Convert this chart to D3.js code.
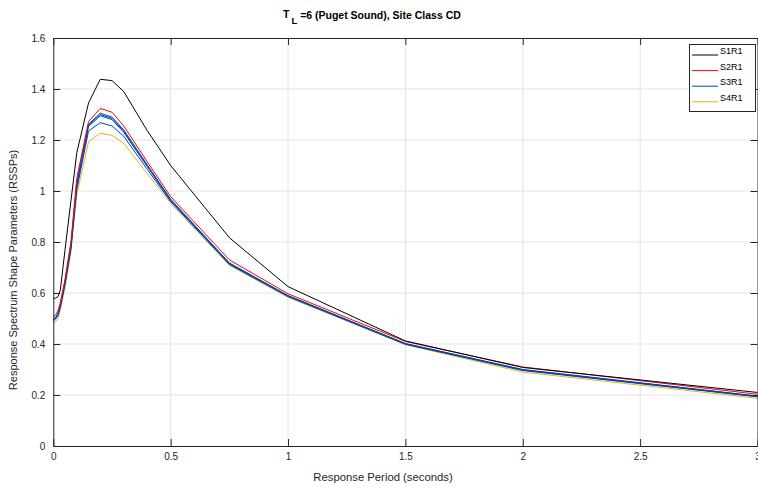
<!DOCTYPE html>
<html><head><meta charset="utf-8">
<script src="https://cdn.jsdelivr.net/npm/d3@7"></script>
<style>body{margin:0;background:#fff}svg{display:block;font-family:"Liberation Sans",Arial,sans-serif}</style>
</head><body><svg id="c" width="758" height="489"></svg>
<script>
const periods = [0, 0.01, 0.02, 0.03, 0.05, 0.075, 0.1, 0.15, 0.2, 0.25, 0.3, 0.4, 0.5, 0.75, 1, 1.5, 2, 3];
const s1r1 = [0.578, 0.580, 0.586, 0.612, 0.770, 0.960, 1.150, 1.345, 1.438, 1.433, 1.390, 1.237, 1.100, 0.817, 0.625, 0.412, 0.308, 0.210];
const s2r1 = [0.507, 0.515, 0.530, 0.562, 0.655, 0.800, 1.050, 1.272, 1.324, 1.309, 1.255, 1.115, 0.978, 0.730, 0.597, 0.410, 0.310, 0.203];
const s3r1 = [0.497, 0.505, 0.520, 0.553, 0.645, 0.785, 1.030, 1.262, 1.305, 1.290, 1.240, 1.103, 0.968, 0.718, 0.590, 0.402, 0.300, 0.196];
const s3r1b = [0.495, 0.503, 0.518, 0.551, 0.642, 0.782, 1.025, 1.258, 1.300, 1.285, 1.235, 1.100, 0.965, 0.716, 0.589, 0.401, 0.299, 0.195];
const s3r1c = [0.493, 0.501, 0.516, 0.549, 0.639, 0.779, 1.020, 1.253, 1.295, 1.280, 1.230, 1.096, 0.962, 0.714, 0.588, 0.400, 0.298, 0.194];
const s3r1d = [0.490, 0.498, 0.512, 0.545, 0.634, 0.772, 1.005, 1.235, 1.268, 1.255, 1.215, 1.085, 0.958, 0.712, 0.586, 0.399, 0.296, 0.193];
const s4r1 = [0.480, 0.488, 0.500, 0.532, 0.620, 0.760, 0.985, 1.193, 1.226, 1.218, 1.187, 1.068, 0.952, 0.708, 0.583, 0.397, 0.290, 0.187];
const xTicks = [0, 0.5, 1, 1.5, 2, 2.5, 3];
const yTicks = [0, 0.2, 0.4, 0.6, 0.8, 1, 1.2, 1.4, 1.6];
const legendNames = ["S1R1", "S2R1", "S3R1", "S4R1"];
const colors = {black:"#000000", red:"#ff0000", blue:"#0047b3", yellow:"#edb120"};

const series = [
  {name:"S1R1", v:s1r1, c:colors.black},
  {name:"S2R1", v:s2r1, c:colors.red},
  {name:"S3R1", v:s3r1, c:colors.blue},
  {name:null, v:s3r1b, c:colors.blue},
  {name:null, v:s3r1c, c:colors.blue},
  {name:null, v:s3r1d, c:colors.blue},
  {name:"S4R1", v:s4r1, c:colors.yellow}
];

const svg = d3.select("#c");
const L = 53.3, R = 757.5, T = 38, B = 446;
const x = d3.scaleLinear().domain([0, 3]).range([L, R]);
const y = d3.scaleLinear().domain([0, 1.6]).range([B, T]);
const axC = "#262626";

// grid
svg.append("g").selectAll("line").data(xTicks.slice(1, -1)).join("line")
  .attr("x1", d => x(d)).attr("x2", d => x(d)).attr("y1", T).attr("y2", B)
  .attr("stroke", "#e3e3e3").attr("stroke-width", 1);
svg.append("g").selectAll("line").data(yTicks.slice(1, -1)).join("line")
  .attr("y1", d => y(d)).attr("y2", d => y(d)).attr("x1", L).attr("x2", R)
  .attr("stroke", "#e3e3e3").attr("stroke-width", 1);

// lines
const line = d3.line().x((d, i) => x(periods[i])).y(d => y(d));
const plot = svg.append("g");
series.slice().reverse().forEach(s => {
  plot.append("path").datum(s.v).attr("d", line).attr("fill", "none")
    .attr("stroke", s.c).attr("stroke-width", 1).attr("stroke-linejoin", "round");
});

// axes (inward ticks)
const tl = 7;
const axB = svg.append("g").attr("transform", `translate(0,${B})`)
  .call(d3.axisBottom(x).tickValues(xTicks).tickFormat(d3.format("~g")).tickSizeInner(-tl).tickSizeOuter(0).tickPadding(7));
const axT = svg.append("g").attr("transform", `translate(0,${T})`)
  .call(d3.axisTop(x).tickValues(xTicks).tickFormat("").tickSizeInner(-tl).tickSizeOuter(0));
const axL = svg.append("g").attr("transform", `translate(${L},0)`)
  .call(d3.axisLeft(y).tickValues(yTicks).tickFormat(d3.format("~g")).tickSizeInner(-tl).tickSizeOuter(0).tickPadding(8));
const axR = svg.append("g").attr("transform", `translate(${R},0)`)
  .call(d3.axisRight(y).tickValues(yTicks).tickFormat("").tickSizeInner(-tl).tickSizeOuter(0));
[axB, axT, axL, axR].forEach(g => {
  g.selectAll("path").attr("stroke", axC).attr("stroke-width", 1);
  g.selectAll("line").attr("stroke", axC);
  g.selectAll("text").attr("fill", axC).attr("font-size", 10).style("font-family", '"Liberation Sans",Arial,sans-serif');
});

// titles
const title = svg.append("text").attr("x", 283).attr("y", 17.5).attr("text-anchor", "start")
  .attr("font-size", 10.5).attr("font-weight", "bold").attr("fill", "#000");
title.append("tspan").text("T");
title.append("tspan").attr("dy", 6).attr("dx", 2).attr("font-size", 9.5).text("L");
title.append("tspan").attr("dy", -5).text(" =6 (Puget Sound), Site Class CD");

svg.append("text").attr("x", 383).attr("y", 481).attr("text-anchor", "middle")
  .attr("font-size", 11.3).attr("fill", axC).text("Response Period (seconds)");
svg.append("text").attr("transform", `translate(17,270) rotate(-90)`).attr("text-anchor", "middle")
  .attr("font-size", 11).attr("fill", axC).text("Response Spectrum Shape Parameters (RSSPs)");

// legend
const lg = svg.append("g");
lg.append("rect").attr("x", 689.5).attr("y", 44.5).attr("width", 66).attr("height", 67)
  .attr("fill", "#fff").attr("stroke", axC).attr("stroke-width", 1);
const legSeries = series.filter(s => s.name);
legSeries.forEach((s, i) => {
  const yy = 51 + i * 15.6;
  lg.append("line").attr("x1", 692).attr("x2", 718).attr("y1", yy + 4).attr("y2", yy + 4)
    .attr("stroke", s.c).attr("stroke-width", 1);
  lg.append("text").attr("x", 720).attr("y", yy + 3).attr("font-size", 9).attr("fill", "#000").text(legendNames[i]);
});
</script></body></html>
